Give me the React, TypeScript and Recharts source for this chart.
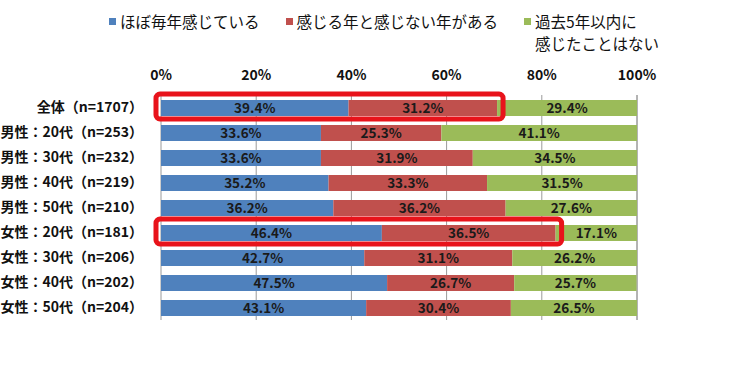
import {
  BarChart,
  Bar,
  XAxis,
  YAxis,
  CartesianGrid,
  Legend,
  LabelList,
  ReferenceArea,
} from "recharts";

const categories = [
  "全体（n=1707）",
  "男性：20代（n=253）",
  "男性：30代（n=232）",
  "男性：40代（n=219）",
  "男性：50代（n=210）",
  "女性：20代（n=181）",
  "女性：30代（n=206）",
  "女性：40代（n=202）",
  "女性：50代（n=204）",
];

const almostEvery = [39.4, 33.6, 33.6, 35.2, 36.2, 46.4, 42.7, 47.5, 43.1];
const sometimes = [31.2, 25.3, 31.9, 33.3, 36.2, 36.5, 31.1, 26.7, 30.4];
const never = [29.4, 41.1, 34.5, 31.5, 27.6, 17.1, 26.2, 25.7, 26.5];

const seriesNames = [
  "ほぼ毎年感じている",
  "感じる年と感じない年がある",
  "過去5年以内に\n感じたことはない",
];

const xTicks = [0, 20, 40, 60, 80, 100];

// rows boxed in red in the original (first two segments)
const highlighted = ["全体（n=1707）", "女性：20代（n=181）"];

const data = categories.map((name, i) => ({
  name,
  almostEvery: almostEvery[i],
  sometimes: sometimes[i],
  never: never[i],
}));

const FONT = '"Noto Sans CJK JP", "Noto Sans", sans-serif';
const COLORS = ["#4F81BD", "#C0504D", "#9BBB59"];

const pct = (v: any) => `${Number(v).toFixed(1)}%`;

function LegendContent({ payload }: any) {
  return (
    <div style={{ display: "flex", fontFamily: FONT, fontSize: 15.5, lineHeight: "22px", color: "#111" }}>
      {(payload || []).map((p: any, i: number) => (
        <div key={i} style={{ display: "flex", alignItems: "flex-start", marginRight: 26 }}>
          <span
            style={{
              display: "inline-block",
              width: 7,
              height: 7,
              marginTop: 8,
              marginRight: 4,
              background: p.color,
            }}
          />
          <span>
            {String(p.value)
              .split("\n")
              .map((line, j) => (
                <div key={j}>{line}</div>
              ))}
          </span>
        </div>
      ))}
    </div>
  );
}

function HighlightBox(props: any) {
  const { x, y, width, height } = props;
  return (
    <rect
      x={x - 5}
      y={y - 1}
      width={width + 11}
      height={height}
      rx={4}
      ry={4}
      fill="none"
      stroke="#E8131B"
      strokeWidth={5}
    />
  );
}

export default function App() {
  return (
    <div style={{ position: "absolute", left: 0, top: 0, background: "#fff" }}>
      <BarChart
        width={749}
        height={389}
        data={data}
        layout="vertical"
        barSize={16}
        margin={{ top: 65, right: 112, bottom: 69, left: 11 }}
      >
        <CartesianGrid horizontal={false} stroke="#9a9a9a" />
        <XAxis
          type="number"
          orientation="top"
          domain={[0, 100]}
          ticks={xTicks}
          tickFormatter={(v) => `${v}%`}
          axisLine={false}
          tickLine={false}
          tickSize={0}
          tickMargin={15}
          height={30}
          tick={{ fontFamily: FONT, fontSize: 14, fontWeight: "bold", fill: "#111" }}
        />
        <YAxis
          type="category"
          dataKey="name"
          width={150}
          axisLine={false}
          tickLine={false}
          tickSize={0}
          tickMargin={18}
          interval={0}
          tick={{ fontFamily: FONT, fontSize: 14, fontWeight: "bold", fill: "#111" }}
        />
        <Legend
          layout="horizontal"
          verticalAlign="middle"
          align="center"
          content={<LegendContent />}
          wrapperStyle={{ position: "absolute", top: 10, left: 109, width: 630, height: 50 }}
        />
        <Bar dataKey="almostEvery" name={seriesNames[0]} stackId="a" fill={COLORS[0]} isAnimationActive={false}>
          <LabelList dataKey="almostEvery" position="center" formatter={pct} fill="#1a1a1a" fontSize={13.5} fontWeight="bold" fontFamily={FONT} />
        </Bar>
        <Bar dataKey="sometimes" name={seriesNames[1]} stackId="a" fill={COLORS[1]} isAnimationActive={false}>
          <LabelList dataKey="sometimes" position="center" formatter={pct} fill="#1a1a1a" fontSize={13.5} fontWeight="bold" fontFamily={FONT} />
        </Bar>
        <Bar dataKey="never" name={seriesNames[2]} stackId="a" fill={COLORS[2]} isAnimationActive={false}>
          <LabelList dataKey="never" position="center" formatter={pct} fill="#1a1a1a" fontSize={13.5} fontWeight="bold" fontFamily={FONT} />
        </Bar>
        {highlighted.map((cat) => {
          const i = categories.indexOf(cat);
          return (
            <ReferenceArea
              key={cat}
              x1={0}
              x2={almostEvery[i] + sometimes[i]}
              y1={cat}
              y2={cat}
              shape={<HighlightBox />}
              zIndex={1500}
            />
          );
        })}
      </BarChart>
    </div>
  );
}
